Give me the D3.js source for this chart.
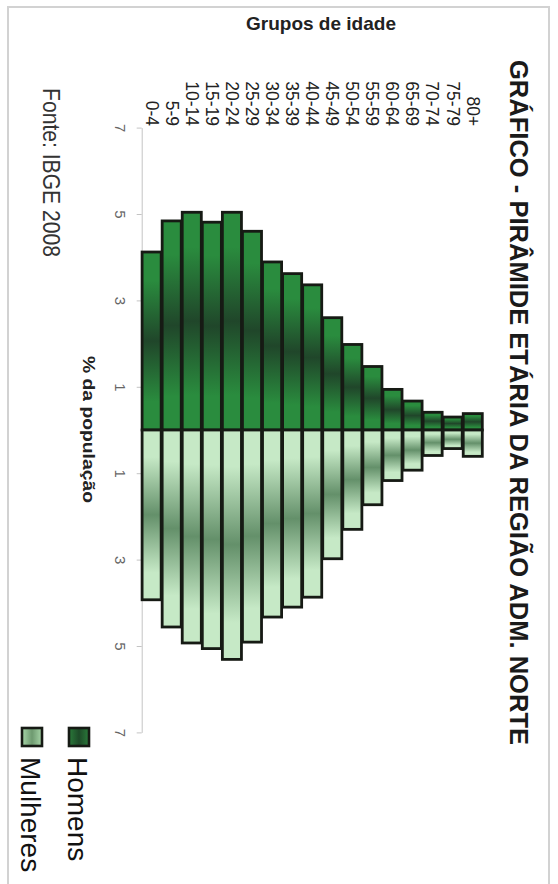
<!DOCTYPE html>
<html>
<head>
<meta charset="utf-8">
<script src="https://cdn.jsdelivr.net/npm/d3@7"></script>
<style>
  html, body { margin: 0; padding: 0; background: #fff; }
  svg { display: block; font-family: "Liberation Sans", Arial, sans-serif; }
</style>
</head>
<body>
<svg id="chart" width="558" height="884"></svg>
<script>
// ---- data ----
const categories = ["0-4","5-9","10-14","15-19","20-24","25-29","30-34","35-39","40-44","45-49","50-54","55-59","60-64","65-69","70-74","75-79","80+"];
const homens   = [4.12, 4.84, 5.04, 4.81, 5.04, 4.60, 3.89, 3.62, 3.36, 2.60, 1.98, 1.47, 0.94, 0.67, 0.41, 0.30, 0.38];
const mulheres = [3.93, 4.56, 4.93, 5.06, 5.31, 4.91, 4.33, 4.10, 3.87, 2.98, 2.30, 1.73, 1.17, 0.93, 0.59, 0.43, 0.61];
const valueTicks = [-7, -5, -3, -1, 1, 3, 5, 7];
const seriesNames = ["Homens", "Mulheres"];
const titleText = "GRÁFICO - PIRÂMIDE ETÁRIA DA REGIÃO ADM. NORTE";
const catAxisTitle = "Grupos de idade";
const valAxisTitle = "% da população";
const sourceText = "Fonte: IBGE 2008";

// ---- setup ----
const svg = d3.select("#chart");
const defs = svg.append("defs");

function grad(id, light, dark) {
  const g = defs.append("linearGradient").attr("id", id)
    .attr("x1", 0).attr("y1", 0).attr("x2", 0).attr("y2", 1);
  [[0, light], [0.16, light], [0.5, dark], [0.84, light], [1, light]].forEach(([o, c]) =>
    g.append("stop").attr("offset", o).attr("stop-color", c));
}
grad("gH", "#2a8c3e", "#20462a");
grad("gM", "#c6e9c6", "#64906a");
function gradH(id, light, dark) {
  const g = defs.append("linearGradient").attr("id", id)
    .attr("x1", 0).attr("y1", 0).attr("x2", 1).attr("y2", 0);
  [[0, light], [0.5, dark], [1, light]].forEach(([o, c]) =>
    g.append("stop").attr("offset", o).attr("stop-color", c));
}
gradH("lgH", "#2a7a3a", "#1d4a28");
gradH("lgM", "#a7d6a8", "#6e9a70");

// frame
svg.append("rect").attr("x", 8).attr("y", 7).attr("width", 541).attr("height", 920)
  .attr("fill", "none").attr("stroke", "#d2d2d2").attr("stroke-width", 2);

const x = d3.scaleBand().domain(categories).range([141.7, 482.7]).paddingInner(0.05).paddingOuter(0.02);
const y = d3.scaleLinear().domain([-7, 7]).range([732.4, 127.6]);

// value axis
const vAxis = svg.append("g").attr("transform", "translate(141.7,0)")
  .call(d3.axisLeft(y).tickValues(valueTicks).tickFormat(d => Math.abs(d)).tickSize(5).tickSizeOuter(0));
vAxis.select(".domain").attr("stroke", "#c4c4c4");
vAxis.selectAll(".tick line").attr("stroke", "#c4c4c4");
vAxis.selectAll(".tick text")
  .attr("x", null).attr("dy", "0.35em")
  .attr("transform", "translate(-21,0) rotate(90)")
  .attr("text-anchor", "middle")
  .attr("fill", "#666").style("font-size", "15px");

// category axis labels
const cAxis = svg.append("g").attr("transform", "translate(0,127.6)")
  .call(d3.axisTop(x).tickSize(0));
cAxis.select(".domain").remove();
cAxis.selectAll(".tick text")
  .attr("y", null).attr("dy", "0.35em")
  .attr("transform", "translate(0,-1.5) rotate(90)")
  .attr("text-anchor", "end")
  .attr("fill", "#222").style("font-size", "17.5px");

// bars
const barG = svg.append("g");
barG.selectAll("rect.h").data(categories).join("rect").attr("class", "h")
  .attr("x", d => x(d)).attr("width", x.bandwidth())
  .attr("y", (d, i) => y(homens[i])).attr("height", (d, i) => y(0) - y(homens[i]))
  .attr("fill", "url(#gH)").attr("stroke", "#161a14").attr("stroke-width", 2.8);
barG.selectAll("rect.m").data(categories).join("rect").attr("class", "m")
  .attr("x", d => x(d)).attr("width", x.bandwidth())
  .attr("y", y(0)).attr("height", (d, i) => y(-mulheres[i]) - y(0))
  .attr("fill", "url(#gM)").attr("stroke", "#161a14").attr("stroke-width", 2.8);

// titles
svg.append("text").attr("transform", "translate(510,60) rotate(90)")
  .attr("font-weight", "bold").style("font-size", "25px").attr("fill", "#1a1a1a")
  .attr("textLength", 685).attr("lengthAdjust", "spacingAndGlyphs")
  .text(titleText);
svg.append("text").attr("x", 321).attr("y", 30).attr("text-anchor", "middle")
  .attr("font-weight", "bold").style("font-size", "19px").attr("fill", "#222")
  .text(catAxisTitle);
svg.append("text").attr("transform", "translate(83,356) rotate(90)")
  .attr("font-weight", "bold").style("font-size", "17px").attr("fill", "#222")
  .attr("textLength", 147).attr("lengthAdjust", "spacingAndGlyphs")
  .text(valAxisTitle);
svg.append("text").attr("transform", "translate(42.5,88) rotate(90)")
  .style("font-size", "24px").attr("fill", "#333")
  .attr("textLength", 169).attr("lengthAdjust", "spacingAndGlyphs")
  .text(sourceText);

// legend
const legX = [68, 21];
const legFill = ["url(#lgH)", "url(#lgM)"];
seriesNames.forEach((name, i) => {
  svg.append("rect").attr("x", legX[i] + 1).attr("y", 728).attr("width", 20).attr("height", 18)
    .attr("fill", legFill[i]).attr("stroke", "#161a14").attr("stroke-width", 2.6);
  svg.append("text").attr("transform", `translate(${legX[i]},757) rotate(90)`)
    .style("font-size", "28px").attr("fill", "#111")
    .text(name);
});
</script>
</body>
</html>
